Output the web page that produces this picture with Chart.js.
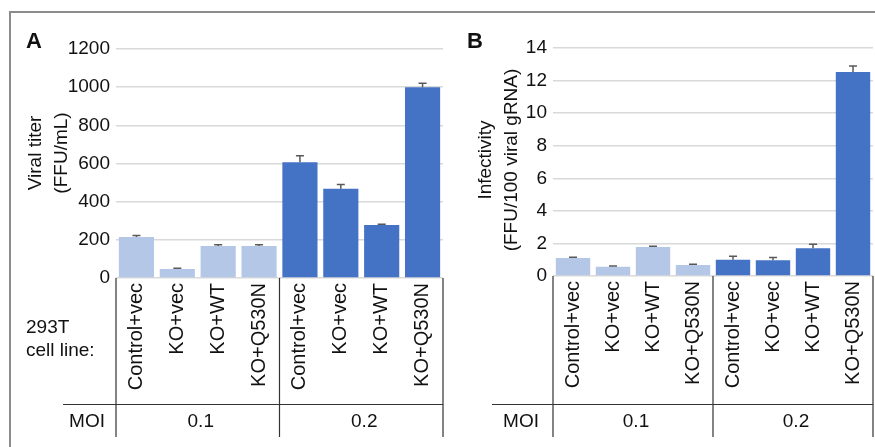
<!DOCTYPE html>
<html><head><meta charset="utf-8">
<script src="https://cdn.jsdelivr.net/npm/chart.js@4.4.1/dist/chart.umd.min.js"></script>
<style>
html,body{margin:0;padding:0;background:#fff;}
#wrap{position:relative;width:875px;height:447px;overflow:hidden;background:#fff;}
#frame{position:absolute;left:9px;top:11px;width:880px;height:450px;border-top:2px solid #8c8c8c;border-left:2px solid #8c8c8c;box-sizing:border-box;}
.pane{position:absolute;top:0;height:447px;}
#pa{left:0;width:450px;}
#pb{left:450px;width:425px;}
</style></head><body>
<div id="wrap"><div id="frame"></div>
<div class="pane" id="pa"><canvas id="ca"></canvas></div>
<div class="pane" id="pb"><canvas id="cb"></canvas></div>
</div>
<script>
const categories = ['Control+vec','KO+vec','KO+WT','KO+Q530N','Control+vec','KO+vec','KO+WT','KO+Q530N'];
const moiGroups = ['0.1','0.2'];
const groupSize = 4;
const groupColors = ['#B4C7E7', '#4472C4'];
const titerValues = [215, 47, 168, 168, 606, 468, 278, 1000];
const titerErrors = [8, 4, 6, 6, 34, 22, 4, 20];
const titerTicks = [0, 200, 400, 600, 800, 1000, 1200];
const infectivityValues = [1.11, 0.57, 1.78, 0.68, 1.00, 0.96, 1.70, 12.52];
const infectivityErrors = [0.04, 0.04, 0.05, 0.04, 0.21, 0.17, 0.25, 0.37];
const infectivityTicks = [0, 2, 4, 6, 8, 10, 12, 14];

const FONT = '"Liberation Sans", Arial, Helvetica, sans-serif';
const TEXT = '#111';

function makePanel(canvasId, p) {
  const barColors = categories.map((c, i) => groupColors[Math.floor(i / groupSize)]);
  const extras = {
    id: 'extras' + canvasId,
    afterDatasetsDraw(chart) {
      const ctx = chart.ctx;
      const meta = chart.getDatasetMeta(0);
      const ys = chart.scales.y;
      ctx.save();
      ctx.strokeStyle = '#595959';
      ctx.lineWidth = 1.5;
      meta.data.forEach((bar, i) => {
        const v = p.values[i], e = p.errors[i];
        const y0 = ys.getPixelForValue(v);
        const y1 = ys.getPixelForValue(v + e);
        ctx.beginPath();
        ctx.moveTo(bar.x, y0); ctx.lineTo(bar.x, y1);
        ctx.moveTo(bar.x - 4, y1); ctx.lineTo(bar.x + 4, y1);
        ctx.stroke();
      });
      ctx.restore();
    },
    afterDraw(chart) {
      const ctx = chart.ctx;
      const ca = chart.chartArea;
      const xs = chart.scales.x;
      ctx.save();
      ctx.strokeStyle = '#333';
      ctx.lineWidth = 1.2;
      const bottom = 437;
      const rowY = 404.5;
      const bounds = [ca.left];
      for (let g = 1; g < moiGroups.length; g++) {
        bounds.push((xs.getPixelForValue(g * groupSize - 1) + xs.getPixelForValue(g * groupSize)) / 2);
      }
      bounds.push(ca.right);
      ctx.beginPath();
      bounds.forEach(bx => { ctx.moveTo(bx, ca.bottom); ctx.lineTo(bx, bottom); });
      ctx.moveTo(ca.left - p.rowExt, rowY); ctx.lineTo(ca.right, rowY);
      ctx.stroke();
      ctx.fillStyle = TEXT;
      ctx.font = '19px ' + FONT;
      ctx.textBaseline = 'alphabetic';
      ctx.textAlign = 'right';
      ctx.fillText('MOI', ca.left - p.moiGap, 427);
      ctx.textAlign = 'center';
      moiGroups.forEach((g, i) => {
        ctx.fillText(g, (bounds[i] + bounds[i + 1]) / 2 + 3, 427);
      });
      if (p.rowTitle) {
        ctx.textAlign = 'left';
        ctx.fillText(p.rowTitle[0], 26, 333);
        ctx.fillText(p.rowTitle[1], 26, 356);
      }
      ctx.font = 'bold 22px ' + FONT;
      ctx.textAlign = 'left';
      ctx.fillText(p.letter, p.letterX, 48);
      ctx.font = '19px ' + FONT;
      ctx.textAlign = 'center';
      ctx.textBaseline = 'middle';
      p.yTitle.forEach((line, i) => {
        ctx.save();
        ctx.translate(p.yTitleX[i], p.yTitleY);
        ctx.rotate(-Math.PI / 2);
        ctx.fillText(line, 0, 0);
        ctx.restore();
      });
      ctx.restore();
    }
  };
  return new Chart(document.getElementById(canvasId), {
    type: 'bar',
    data: {
      labels: categories,
      datasets: [{
        data: p.values,
        backgroundColor: barColors,
        borderWidth: 0,
        categoryPercentage: 1.0,
        barPercentage: 0.86
      }]
    },
    options: {
      responsive: true,
      maintainAspectRatio: false,
      animation: false,
      layout: { padding: { top: p.top, right: p.right, left: 0, bottom: 0 } },
      plugins: { legend: { display: false }, tooltip: { enabled: false } },
      scales: {
        x: {
          grid: { display: false, drawTicks: false },
          border: { display: false },
          ticks: {
            autoSkip: false, minRotation: 90, maxRotation: 90, padding: 5,
            color: TEXT, font: { family: FONT, size: 20 }
          },
          afterFit: s => { s.height = 447 - p.bottom; s.paddingLeft = 0; s.paddingRight = 0; }
        },
        y: {
          min: p.ticks[0], max: p.ticks[p.ticks.length - 1],
          grid: { color: '#d9d9d9', lineWidth: 1.5, drawTicks: false },
          border: { display: false },
          ticks: { padding: 6, color: TEXT, font: { family: FONT, size: 19 }, callback: v => String(v) },
          afterBuildTicks: s => { s.ticks = p.ticks.map(v => ({ value: v })); },
          afterFit: s => { s.width = p.yWidth; s.paddingTop = 0; s.paddingBottom = 0; }
        }
      }
    },
    plugins: [extras]
  });
}

makePanel('ca', {
  values: titerValues, errors: titerErrors, ticks: titerTicks,
  top: 49, bottom: 278, right: 7, yWidth: 116,
  letter: 'A', letterX: 26,
  yTitle: ['Viral titer', '(FFU/mL)'], yTitleX: [36, 62], yTitleY: 153,
  rowTitle: ['293T', 'cell line:'], rowExt: 53, moiGap: 11
});
makePanel('cb', {
  values: infectivityValues, errors: infectivityErrors, ticks: infectivityTicks,
  top: 48, bottom: 276, right: 2, yWidth: 103,
  letter: 'B', letterX: 17,
  yTitle: ['Infectivity', '(FFU/100 viral gRNA)'], yTitleX: [36, 62], yTitleY: 160,
  rowTitle: null, rowExt: 61, moiGap: 14
});
</script>
</body></html>
